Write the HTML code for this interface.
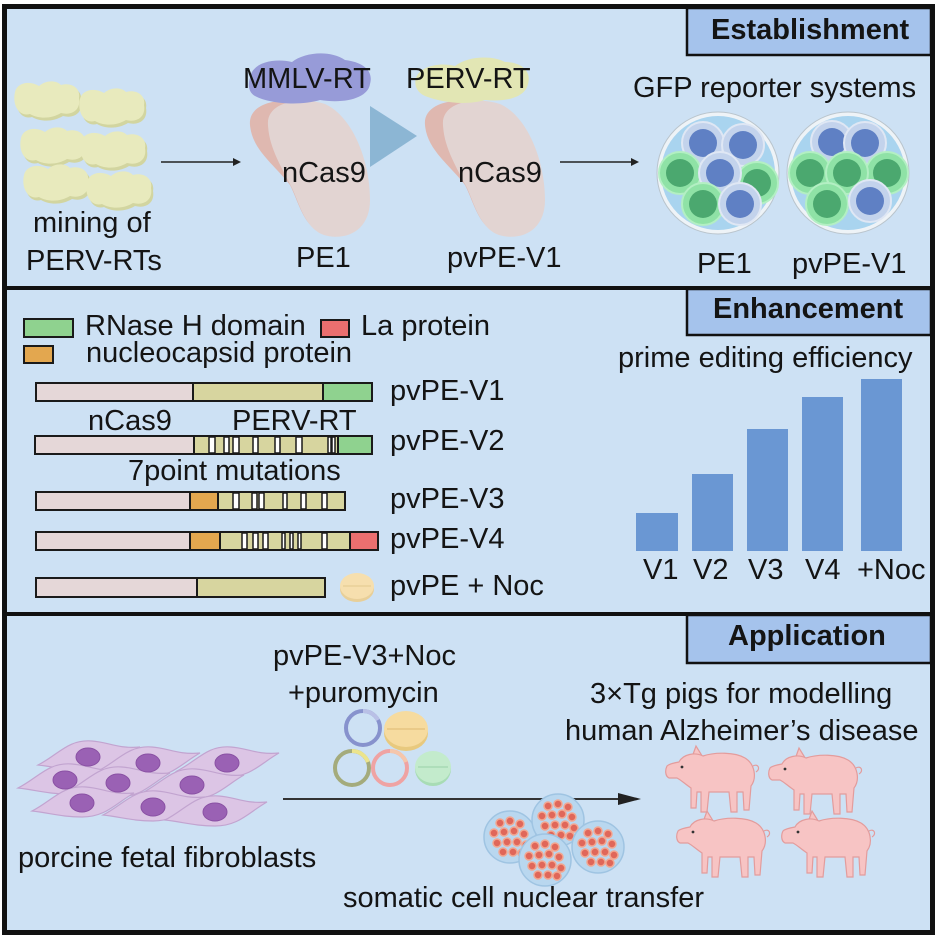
<!DOCTYPE html>
<html><head><meta charset="utf-8">
<style>
html,body{margin:0;padding:0;background:#fff}
svg{display:block}
text{font-family:"Liberation Sans",Arial,sans-serif;font-size:29px;fill:#141414}
.b{font-weight:bold}
</style></head>
<body>
<svg width="939" height="939" viewBox="0 0 939 939" xmlns="http://www.w3.org/2000/svg">
<defs>
  <g id="blob">
    <path d="M2,12 C4,3 16,0 26,6 C33,0 43,0 48,5 C58,2 68,8 66,18 C68,29 60,36 48,33 C38,39 26,39 17,34 C6,37 -1,25 2,12 Z" fill="#d2d5a0" transform="translate(2,3)"/>
    <path d="M2,12 C4,3 16,0 26,6 C33,0 43,0 48,5 C58,2 68,8 66,18 C68,29 60,36 48,33 C38,39 26,39 17,34 C6,37 -1,25 2,12 Z" fill="#e8eabd"/>
  </g>
  <g id="bc"><circle r="21" fill="#c3d3ec" stroke="#dfe7f4" stroke-width="2"/><circle r="14" fill="#5f80c4"/></g>
  <g id="gc"><circle r="21" fill="#8fe2a6" stroke="#b3efc3" stroke-width="2"/><circle r="14" fill="#4ba86f"/></g>
  <g id="pig" fill="#f7c4c4" stroke="#e39c9c" stroke-width="1.2">
    <path d="M26,12 L31,-2 L39,11 Z"/>
    <path d="M14,14 C18,6 30,4 38,8 C50,4 70,4 80,10 C90,16 92,30 86,38 L84,62 L79,62 L78,44 L72,44 L72,64 L66,64 L64,44 L44,44 L42,64 L36,64 L36,44 L32,44 L31,60 L26,60 L26,40 C20,36 16,32 12,30 L4,30 C0,28 0,22 2,18 C4,16 8,15 14,14 Z"/>
    <path d="M88,18 c5,-3 8,3 3,6" fill="none"/>
    <circle cx="17" cy="19" r="1.4" fill="#333" stroke="none"/>
  </g>
  <g id="cell">
    <path d="M-50,8 C-30,-2 -20,-18 4,-16 C20,-15 30,-8 52,-10 C34,0 24,14 0,14 C-20,14 -32,10 -50,8 Z" fill="#dcc5e5" stroke="#c2a4d0" stroke-width="1.2"/>
  </g>
  <g id="emb">
    <circle r="26" fill="#b9d7ef" stroke="#9fc4e2" stroke-width="1.5"/>
    <g fill="#e0675a" stroke="#f2a690" stroke-width="1.5">
      <circle cx="-10" cy="-14" r="4"/><circle cx="0" cy="-16" r="4"/><circle cx="10" cy="-13" r="4"/>
      <circle cx="-16" cy="-4" r="4"/><circle cx="-6" cy="-5" r="4"/><circle cx="4" cy="-6" r="4"/><circle cx="14" cy="-3" r="4"/>
      <circle cx="-13" cy="6" r="4"/><circle cx="-3" cy="5" r="4"/><circle cx="7" cy="5" r="4"/><circle cx="16" cy="8" r="4"/>
      <circle cx="-7" cy="15" r="4"/><circle cx="3" cy="15" r="4"/><circle cx="12" cy="16" r="4"/>
    </g>
  </g>
</defs>

<rect width="939" height="939" fill="#fff"/>
<rect x="4.5" y="6.5" width="928" height="926" fill="#cde1f4"/>

<!-- ===== Panel 1 ===== -->
<use href="#blob" x="13" y="80"/>
<use href="#blob" x="78" y="87"/>
<use href="#blob" x="19" y="126"/>
<use href="#blob" x="79" y="130"/>
<use href="#blob" x="22" y="163"/>
<use href="#blob" x="85" y="170"/>
<text x="33" y="232">mining of</text>
<text x="26" y="270">PERV-RTs</text>

<line x1="161" y1="162" x2="236" y2="162" stroke="#222" stroke-width="1.6"/>
<polygon points="233,158 241,162 233,166" fill="#222"/>

<!-- PE1 protein -->
<path d="M250,125 C248,105 275,98 295,102 C320,108 345,130 355,170 C360,200 345,230 325,232 C305,232 298,200 290,185 C275,165 252,150 250,125 Z" fill="#dfb8b0"/>
<path d="M268,125 C266,102 300,96 325,104 C352,116 370,160 370,200 C370,228 350,240 328,236 C306,232 300,205 292,188 C282,168 269,148 268,125 Z" fill="#e2d4d2"/>
<path d="M250,78 C252,62 275,58 292,62 C305,52 330,50 345,60 C362,62 374,70 370,84 C368,98 345,104 320,100 C300,106 270,104 255,96 C248,92 248,84 250,78 Z" fill="#979bd8"/>
<text x="243" y="88">MMLV-RT</text>
<text x="282" y="182">nCas9</text>
<text x="296" y="267">PE1</text>

<polygon points="370,106 417,136 370,167" fill="#8cb6d4"/>

<!-- pvPE-V1 protein -->
<path d="M425,125 C423,105 450,98 470,102 C495,108 520,130 530,170 C535,200 520,230 500,232 C480,232 473,200 465,185 C450,165 427,150 425,125 Z" fill="#dfb8b0"/>
<path d="M443,125 C441,102 475,96 500,104 C527,116 545,160 545,200 C545,228 525,240 503,236 C481,232 475,205 467,188 C457,168 444,148 443,125 Z" fill="#e2d4d2"/>
<path d="M416,78 C420,66 440,62 455,66 C468,56 492,55 505,62 C520,62 532,70 528,84 C525,98 505,102 485,100 C465,106 440,102 425,96 C416,92 414,84 416,78 Z" fill="#e2e6b4"/>
<text x="406" y="88">PERV-RT</text>
<text x="458" y="182">nCas9</text>
<text x="447" y="267">pvPE-V1</text>

<line x1="560" y1="162" x2="634" y2="162" stroke="#222" stroke-width="1.6"/>
<polygon points="631,158 639,162 631,166" fill="#222"/>

<text x="633" y="97">GFP reporter systems</text>

<!-- dishes -->
<circle cx="718" cy="173" r="61" fill="#eef3f7" stroke="#b9c4cc" stroke-width="1"/>
<circle cx="718" cy="173" r="57" fill="#a9d4ef"/>
<use href="#bc" x="703" y="143"/>
<use href="#bc" x="743" y="145"/>
<use href="#gc" x="680" y="173"/>
<use href="#gc" x="757" y="183"/>
<use href="#bc" x="720" y="173"/>
<use href="#gc" x="703" y="204"/>
<use href="#bc" x="740" y="204"/>

<circle cx="848" cy="173" r="61" fill="#eef3f7" stroke="#b9c4cc" stroke-width="1"/>
<circle cx="848" cy="173" r="57" fill="#a9d4ef"/>
<use href="#bc" x="832" y="142"/>
<use href="#bc" x="865" y="143"/>
<use href="#gc" x="810" y="173"/>
<use href="#gc" x="887" y="173"/>
<use href="#gc" x="847" y="173"/>
<use href="#gc" x="827" y="204"/>
<use href="#bc" x="870" y="201"/>

<text x="697" y="273">PE1</text>
<text x="792" y="273">pvPE-V1</text>

<!-- ===== Panel 2 ===== -->
<rect x="24" y="319" width="49" height="18" fill="#8fd28f" stroke="#1a1a1a" stroke-width="2"/>
<text x="85" y="335">RNase H domain</text>
<rect x="321" y="320" width="28" height="17" fill="#eb6f6f" stroke="#1a1a1a" stroke-width="2"/>
<text x="361" y="335">La protein</text>
<rect x="24" y="346" width="29" height="17" fill="#e3a74f" stroke="#1a1a1a" stroke-width="2"/>
<text x="86" y="362">nucleocapsid protein</text>

<g stroke="#1a1a1a" stroke-width="2">
  <rect x="36" y="383" width="157" height="18" fill="#e5d7d8"/>
  <rect x="193" y="383" width="130" height="18" fill="#d7d59f"/>
  <rect x="323" y="383" width="49" height="18" fill="#8fd28f"/>
  <rect x="35" y="436" width="159" height="18" fill="#e5d7d8"/>
  <rect x="194" y="436" width="144" height="18" fill="#d7d59f"/>
  <rect x="338" y="436" width="34" height="18" fill="#8fd28f"/>
  <rect x="36" y="492" width="154" height="18" fill="#e5d7d8"/>
  <rect x="190" y="492" width="28" height="18" fill="#e3a74f"/>
  <rect x="218" y="492" width="127" height="18" fill="#d7d59f"/>
  <rect x="36" y="532" width="154" height="18" fill="#e5d7d8"/>
  <rect x="190" y="532" width="30" height="18" fill="#e3a74f"/>
  <rect x="220" y="532" width="130" height="18" fill="#d7d59f"/>
  <rect x="350" y="532" width="28" height="18" fill="#eb6f6f"/>
  <rect x="36" y="578" width="161" height="19" fill="#e5d7d8"/>
  <rect x="197" y="578" width="128" height="19" fill="#d7d59f"/>
</g>
<g fill="#fff" stroke="#1a1a1a" stroke-width="1.5">
  <rect x="209" y="437" width="6" height="16"/><rect x="224" y="437" width="5" height="16"/>
  <rect x="233" y="437" width="6" height="16"/><rect x="253" y="437" width="5" height="16"/>
  <rect x="275" y="437" width="5" height="16"/><rect x="296" y="437" width="6" height="16"/>
  <rect x="328" y="437" width="3" height="16"/><rect x="332" y="437" width="3" height="16"/>

  <rect x="233" y="493" width="6" height="16"/><rect x="252" y="493" width="5" height="16"/>
  <rect x="259" y="493" width="5" height="16"/><rect x="283" y="493" width="4" height="16"/>
  <rect x="301" y="493" width="5" height="16"/><rect x="322" y="493" width="5" height="16"/>

  <rect x="242" y="533" width="5" height="16"/><rect x="253" y="533" width="5" height="16"/>
  <rect x="263" y="533" width="5" height="16"/><rect x="282" y="533" width="3" height="16"/>
  <rect x="290" y="533" width="3" height="16"/><rect x="298" y="533" width="3" height="16"/>
  <rect x="322" y="533" width="5" height="16"/>
</g>

<text x="88" y="430">nCas9</text>
<text x="232" y="430">PERV-RT</text>
<text x="128" y="480">7point mutations</text>

<ellipse cx="357" cy="589" rx="17" ry="13" fill="#e8cf98"/>
<ellipse cx="357" cy="586" rx="17" ry="13" fill="#f6dfae"/>
<line x1="343" y1="586" x2="371" y2="586" stroke="#e2c88e" stroke-width="1"/>

<text x="390" y="400">pvPE-V1</text>
<text x="390" y="450">pvPE-V2</text>
<text x="390" y="508">pvPE-V3</text>
<text x="390" y="548">pvPE-V4</text>
<text x="390" y="595">pvPE + Noc</text>

<text x="618" y="367">prime editing efficiency</text>
<g fill="#6a97d3">
  <rect x="636" y="513" width="42" height="38"/>
  <rect x="692" y="474" width="41" height="77"/>
  <rect x="747" y="429" width="41" height="122"/>
  <rect x="802" y="397" width="41" height="154"/>
  <rect x="861" y="379" width="41" height="172"/>
</g>
<text x="643" y="579">V1</text>
<text x="693" y="579">V2</text>
<text x="748" y="579">V3</text>
<text x="805" y="579">V4</text>
<text x="857" y="579">+Noc</text>

<!-- ===== Panel 3 ===== -->
<text x="273" y="665">pvPE-V3+Noc</text>
<text x="288" y="702">+puromycin</text>

<circle cx="363" cy="728" r="17" fill="none" stroke="#8792cd" stroke-width="4"/>
<path d="M363,711 A17,17 0 0 1 378,720" fill="none" stroke="#b9c0e6" stroke-width="4"/>
<ellipse cx="406" cy="733" rx="22" ry="18" fill="#e8c97e"/>
<ellipse cx="406" cy="729" rx="22" ry="18" fill="#f6db9f"/>
<line x1="387" y1="729" x2="425" y2="729" stroke="#e2c07a" stroke-width="1.2"/>
<circle cx="352" cy="768" r="17" fill="none" stroke="#a4ab7c" stroke-width="4"/>
<path d="M352,751 A17,17 0 0 1 368,762" fill="none" stroke="#ece48c" stroke-width="4"/>
<circle cx="390" cy="768" r="17" fill="none" stroke="#efa3a3" stroke-width="4"/>
<path d="M390,751 A17,17 0 0 1 406,762" fill="none" stroke="#f5c6ab" stroke-width="4"/>
<ellipse cx="433" cy="769" rx="18" ry="17" fill="#a8dcb5"/>
<ellipse cx="433" cy="767" rx="18" ry="16" fill="#c3ebcc"/>
<line x1="418" y1="767" x2="448" y2="767" stroke="#a2d5ae" stroke-width="1.2"/>

<!-- fibroblasts -->
<use href="#cell" x="88" y="757"/>
<use href="#cell" x="148" y="763"/>
<use href="#cell" x="227" y="763"/>
<use href="#cell" x="68" y="780"/>
<use href="#cell" x="118" y="783"/>
<use href="#cell" x="192" y="785"/>
<use href="#cell" x="82" y="803"/>
<use href="#cell" x="153" y="807"/>
<use href="#cell" x="215" y="812"/>
<g fill="#9a61b4" stroke="#8a51a4" stroke-width="1">
  <ellipse cx="88" cy="757" rx="12" ry="9"/>
  <ellipse cx="148" cy="763" rx="12" ry="9"/>
  <ellipse cx="227" cy="763" rx="12" ry="9"/>
  <ellipse cx="65" cy="780" rx="12" ry="9"/>
  <ellipse cx="118" cy="783" rx="12" ry="9"/>
  <ellipse cx="192" cy="785" rx="12" ry="9"/>
  <ellipse cx="82" cy="803" rx="12" ry="9"/>
  <ellipse cx="153" cy="807" rx="12" ry="9"/>
  <ellipse cx="215" cy="812" rx="12" ry="9"/>
</g>

<line x1="283" y1="799" x2="624" y2="799" stroke="#333" stroke-width="2"/>
<polygon points="618,793 641,799 618,805" fill="#222"/>

<use href="#emb" x="510" y="837"/>
<use href="#emb" x="558" y="820"/>
<use href="#emb" x="545" y="860"/>
<use href="#emb" x="598" y="847"/>

<use href="#pig" x="665" y="748"/>
<use href="#pig" x="768" y="750"/>
<use href="#pig" x="676" y="813"/>
<use href="#pig" x="781" y="813"/>

<text x="18" y="867">porcine fetal fibroblasts</text>
<text x="343" y="907">somatic cell nuclear transfer</text>
<text x="590" y="703">3×Tg pigs for modelling</text>
<text x="565" y="740">human Alzheimer’s disease</text>

<!-- ===== frames & headers ===== -->
<rect x="4.5" y="6.5" width="928" height="926" fill="none" stroke="#111" stroke-width="5"/>
<line x1="4" y1="288" x2="933" y2="288" stroke="#111" stroke-width="4"/>
<line x1="4" y1="614" x2="933" y2="614" stroke="#111" stroke-width="4"/>

<rect x="687" y="8" width="244" height="47" fill="#a5c3ec" stroke="#111" stroke-width="2.5"/>
<text class="b" x="711" y="39">Establishment</text>
<rect x="687" y="289" width="244" height="46" fill="#a5c3ec" stroke="#111" stroke-width="2.5"/>
<text class="b" x="713" y="318">Enhancement</text>
<rect x="687" y="615" width="244" height="48" fill="#a5c3ec" stroke="#111" stroke-width="2.5"/>
<text class="b" x="728" y="645">Application</text>
</svg>
</body></html>
